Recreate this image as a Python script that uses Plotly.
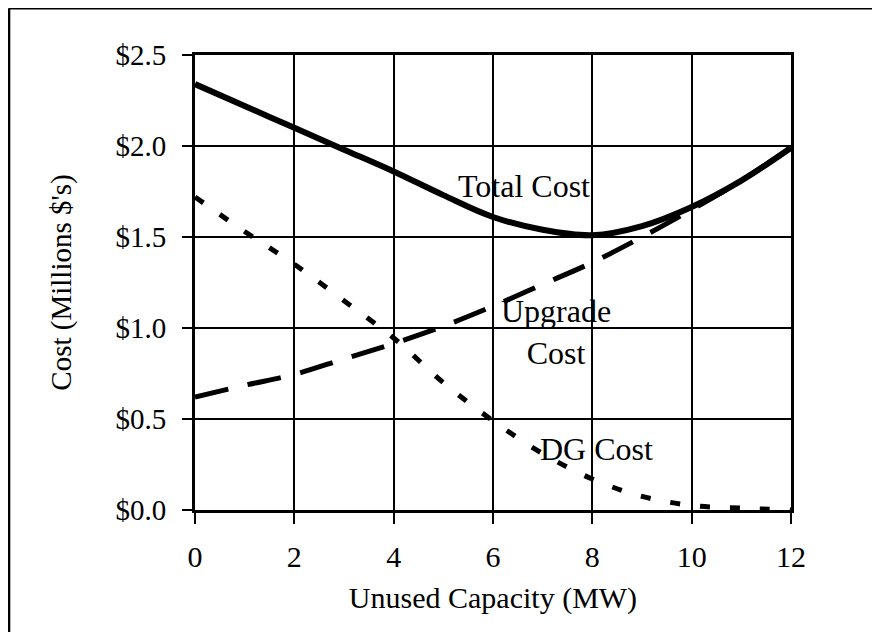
import plotly.graph_objects as go

capacity_mw = [0, 1, 2, 3, 4, 5, 6, 7, 8, 9, 10, 11, 12]
total_cost = [2.34, 2.22, 2.10, 1.98, 1.86, 1.73, 1.61, 1.54, 1.51, 1.56, 1.665, 1.81, 1.99]
upgrade_cost = [0.62, 0.685, 0.745, 0.83, 0.915, 1.01, 1.12, 1.24, 1.36, 1.50, 1.65, 1.81, 1.99]
dg_cost = [1.72, 1.53, 1.35, 1.15, 0.945, 0.70, 0.49, 0.31, 0.17, 0.075, 0.025, 0.01, 0.0]

x_ticks = [0, 2, 4, 6, 8, 10, 12]
y_ticks = [0.0, 0.5, 1.0, 1.5, 2.0, 2.5]
y_tick_labels = ["$0.0", "$0.5", "$1.0", "$1.5", "$2.0", "$2.5"]

FONT = "Liberation Serif, Times New Roman, serif"

fig = go.Figure()
fig.add_trace(go.Scatter(x=capacity_mw, y=dg_cost, mode="lines",
                         line=dict(color="black", width=5, dash="10px,20px", shape="spline"),
                         name="DG Cost", showlegend=False))
fig.add_trace(go.Scatter(x=capacity_mw, y=upgrade_cost, mode="lines",
                         line=dict(color="black", width=5, dash="34px,20px", shape="spline"),
                         name="Upgrade Cost", showlegend=False))
fig.add_trace(go.Scatter(x=capacity_mw, y=total_cost, mode="lines",
                         line=dict(color="black", width=6, shape="spline"),
                         name="Total Cost", showlegend=False))

ann_font = dict(family=FONT, size=32, color="black")
fig.add_annotation(x=6.62, y=1.78, text="Total Cost", showarrow=False, font=ann_font)
fig.add_annotation(x=7.26, y=0.98, text="Upgrade<br>Cost", showarrow=False, font=ann_font)
fig.add_annotation(x=8.09, y=0.335, text="DG Cost", showarrow=False, font=ann_font)

# outer frame (top, left, right)
for x0, y0, x1, y1 in [(-0.312, 1.103, 1.144, 1.103), (-0.312, 1.103, -0.312, -0.268),
                       (1.144, 1.103, 1.144, -0.268)]:
    fig.add_shape(type="line", xref="paper", yref="paper", x0=x0, y0=y0, x1=x1, y1=y1,
                  line=dict(color="black", width=2.5))

fig.update_xaxes(range=[0, 12], tickvals=x_ticks, ticktext=[str(v) for v in x_ticks],
                 showgrid=True, gridcolor="black", gridwidth=2, zeroline=False,
                 showline=True, linecolor="black", linewidth=3, mirror=True,
                 ticks="outside", ticklen=11, tickwidth=2, tickcolor="black",
                 ticklabelstandoff=7,
                 tickfont=dict(family=FONT, size=30, color="black"),
                 title=dict(text="Unused Capacity (MW)", standoff=15,
                            font=dict(family=FONT, size=30, color="black")))
fig.update_yaxes(range=[0, 2.5], tickvals=y_ticks, ticktext=y_tick_labels,
                 showgrid=True, gridcolor="black", gridwidth=2, zeroline=False,
                 showline=True, linecolor="black", linewidth=3, mirror=True,
                 ticks="outside", ticklen=10, tickwidth=2, tickcolor="black",
                 ticklabelstandoff=10,
                 tickfont=dict(family=FONT, size=29, color="black"),
                 title=dict(text="Cost (Millions $'s)", standoff=36,
                            font=dict(family=FONT, size=29, color="black")))

fig.update_layout(width=880, height=634, margin=dict(l=187, r=97, t=47, b=132),
                  paper_bgcolor="white", plot_bgcolor="white", showlegend=False)

fig.write_html("out.html")
